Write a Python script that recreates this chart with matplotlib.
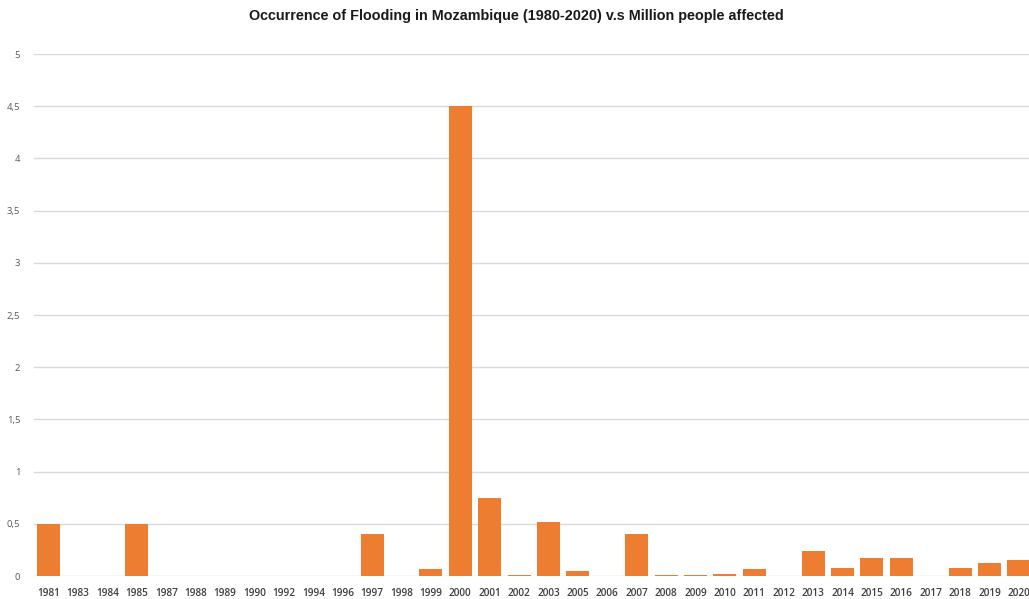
import matplotlib
matplotlib.use("Agg")
import matplotlib.pyplot as plt
from matplotlib.ticker import FuncFormatter

years = ["1981", "1983", "1984", "1985", "1987", "1988", "1989", "1990", "1992",
         "1994", "1996", "1997", "1998", "1999", "2000", "2001", "2002", "2003",
         "2005", "2006", "2007", "2008", "2009", "2010", "2011", "2012", "2013",
         "2014", "2015", "2016", "2017", "2018", "2019", "2020"]
affected_millions = [0.5, 0.0, 0.0, 0.5, 0.0, 0.0, 0.0, 0.0, 0.0,
                     0.0, 0.0, 0.4, 0.0, 0.07, 4.5, 0.75, 0.01, 0.52,
                     0.05, 0.0, 0.4, 0.01, 0.01, 0.02, 0.07, 0.0, 0.24,
                     0.08, 0.17, 0.17, 0.0, 0.08, 0.12, 0.15]
y_ticks = [0, 0.5, 1, 1.5, 2, 2.5, 3, 3.5, 4, 4.5, 5]
title = "Occurrence of Flooding in Mozambique (1980-2020) v.s Million people affected"

W, H = 1029, 599
fig = plt.figure(figsize=(W / 100, H / 100), dpi=100)
left_px, right_px = 34, 34 + 29.4 * len(years)
bottom_px, top_px = 576, 54
ax = fig.add_axes([left_px / W, (H - bottom_px) / H,
                   (right_px - left_px) / W, (bottom_px - top_px) / H])

x = list(range(len(years)))
ax.bar(x, affected_millions, width=0.78, color="#ED7D31", linewidth=0, zorder=3)

ax.set_xlim(-0.5, len(years) - 0.5)
ax.set_ylim(0, 5)
ax.set_yticks(y_ticks)
ax.yaxis.set_major_formatter(FuncFormatter(
    lambda v, _: (f"{v:g}").replace(".", ",")))
ax.set_xticks(x)
ax.set_xticklabels(years)

ax.grid(axis="y", color="#d9d9d9", linewidth=1.0, zorder=0)
for s in ax.spines.values():
    s.set_visible(False)
ax.tick_params(axis="both", length=0)
ax.tick_params(axis="y", pad=10, labelsize=6.8, labelcolor="#595959")
ax.tick_params(axis="x", pad=9, labelsize=7.2, labelcolor="#404040")
for lbl in ax.get_xticklabels() + ax.get_yticklabels():
    lbl.set_fontfamily("Open Sans")
for lbl in ax.get_xticklabels():
    lbl.set_fontweight("semibold")

fig.text(516 / W, 1 - 16 / H, title, ha="center", va="center",
         fontsize=10.4, fontweight="bold", family="Liberation Sans",
         color="#1a1a1a")

fig.savefig("out.png", dpi=100)
